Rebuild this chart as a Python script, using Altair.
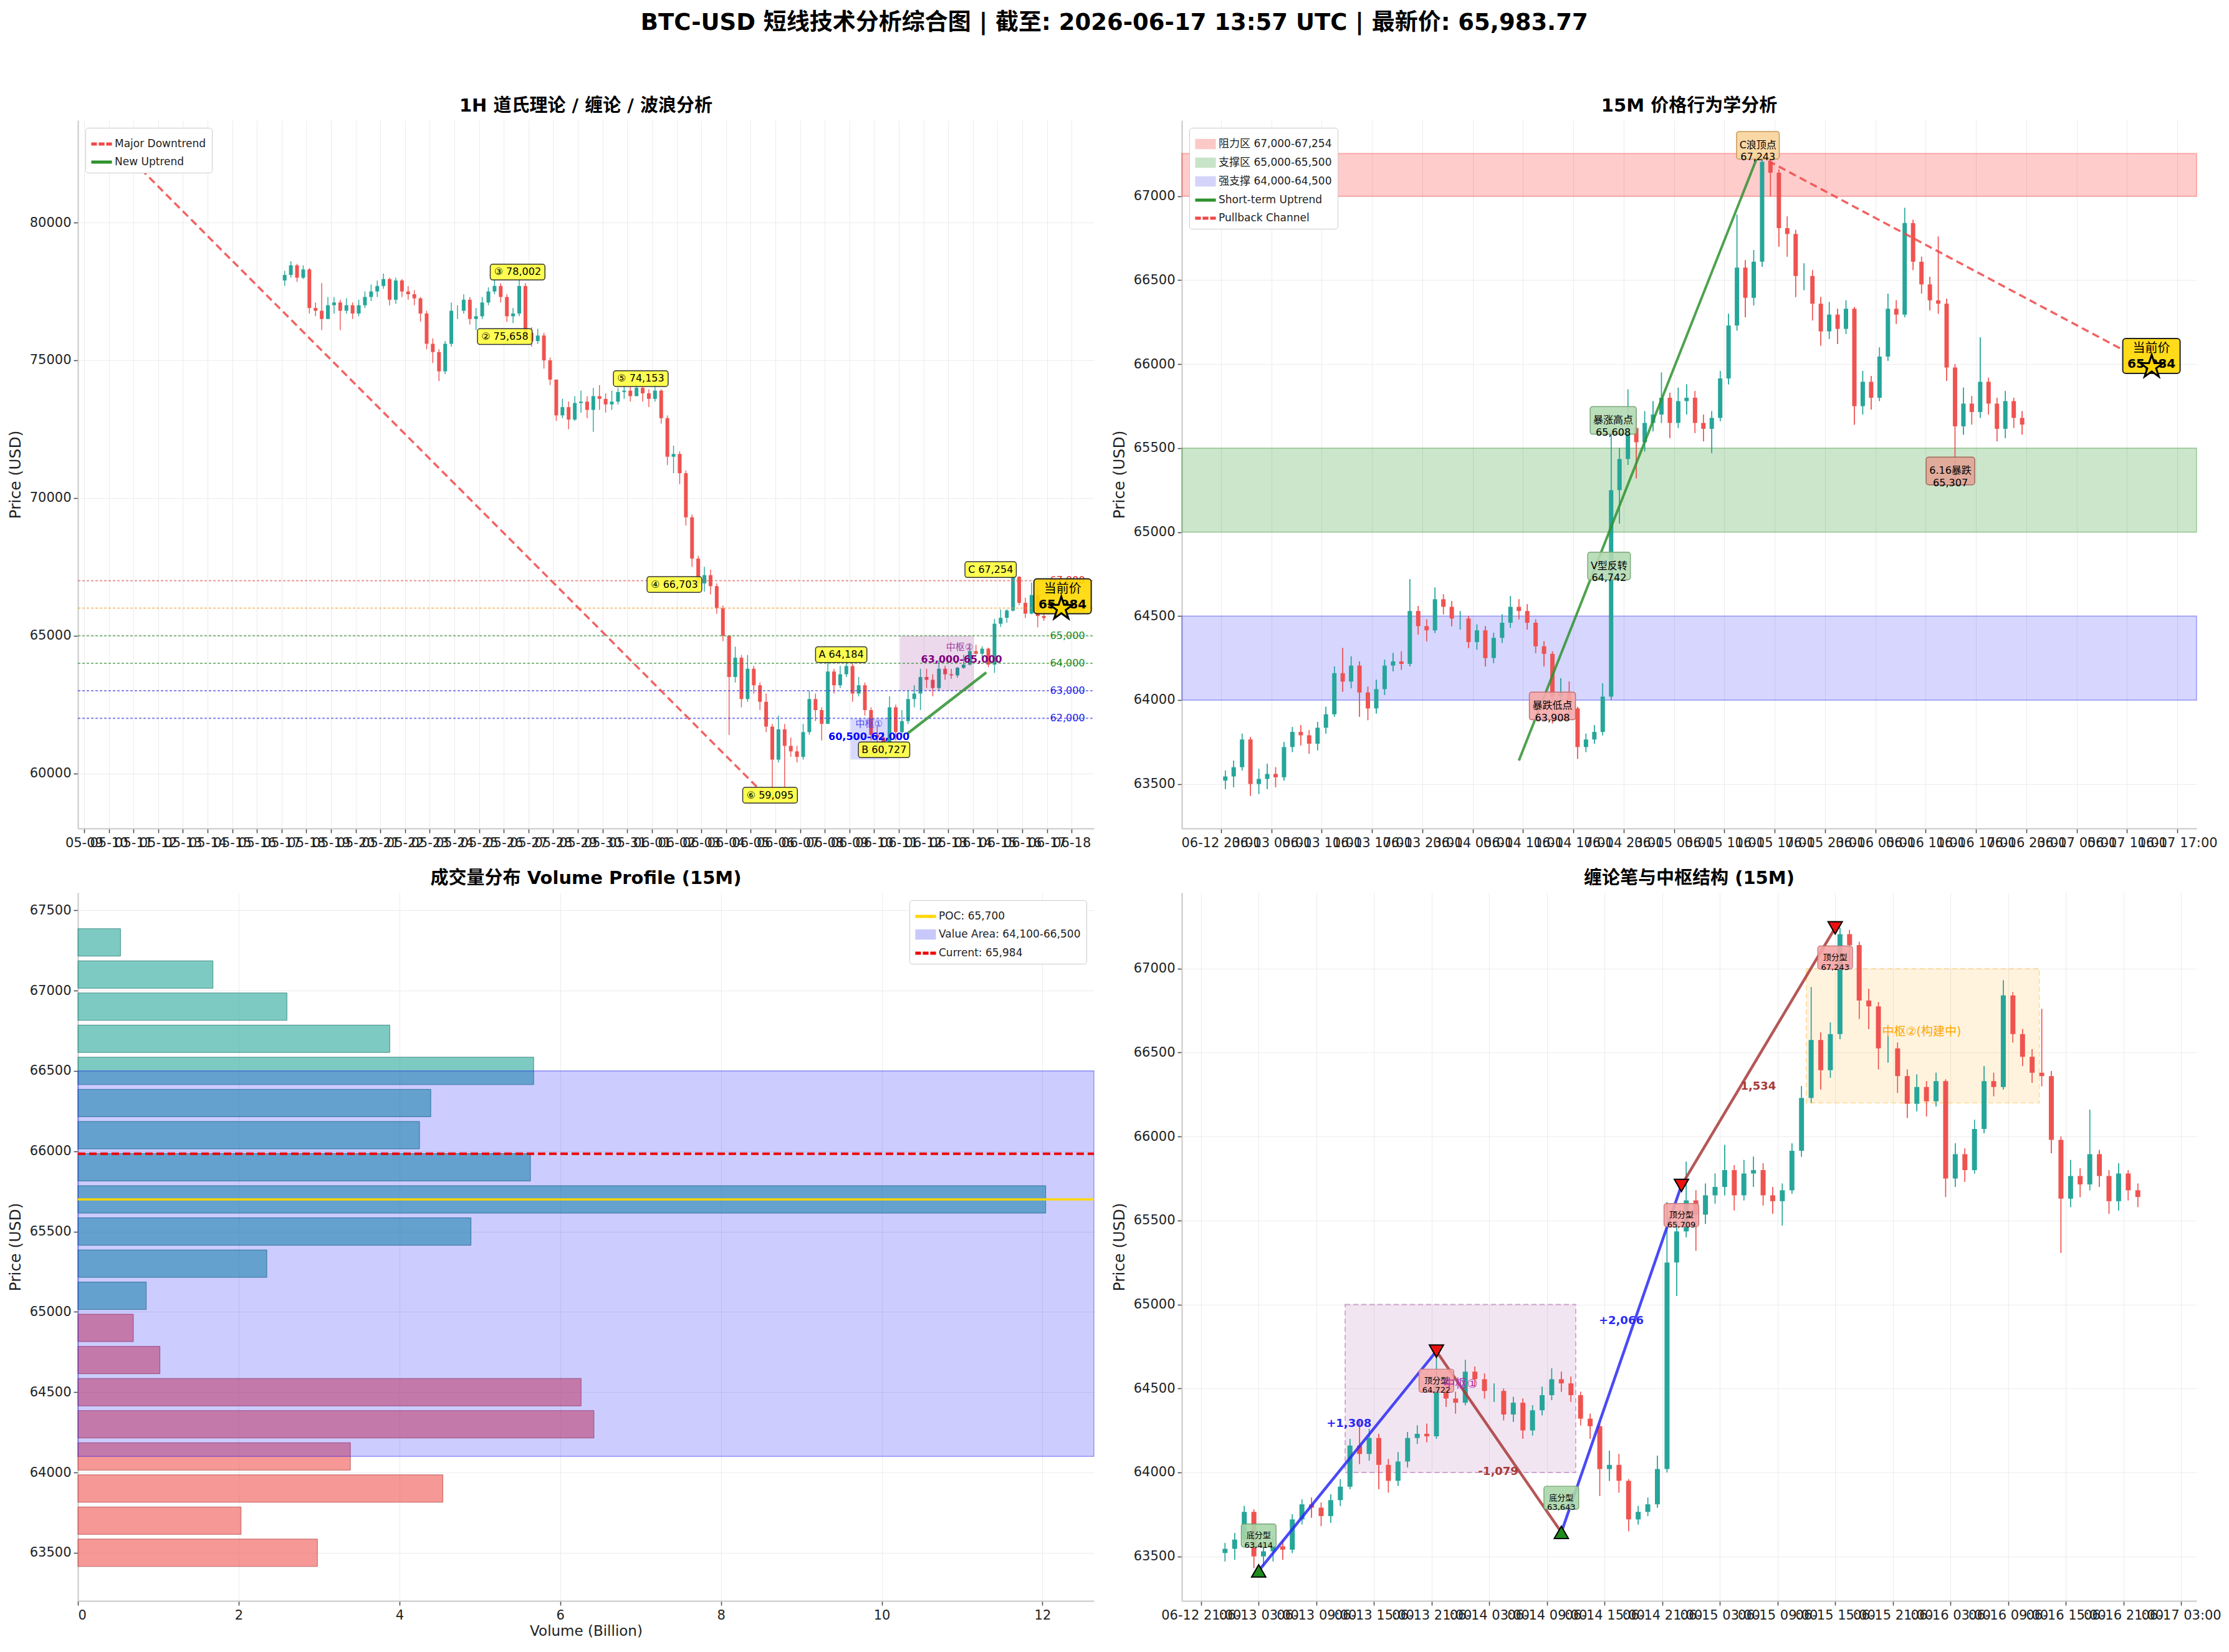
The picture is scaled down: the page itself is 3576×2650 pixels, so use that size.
import altair as alt
import pandas as pd

FONT = "DejaVu Sans, Noto Sans CJK SC, sans-serif"
UP, DN = "#26a69a", "#ef5350"
WL, WR, H = 1630, 1628, 1136

# ======================= DATA =======================
# 1H panel, drawn as 6-hour candles from 2026-05-17 00:00
h1_open0 = 77900
h1_close = [78100, 78450, 78000, 78300, 76900, 76800, 76500, 77000,
            77100, 76800, 77000, 76700, 77000, 77300, 77500, 77700,
            77950, 77200, 77900, 77500, 77400, 77250, 76700, 75600,
            75300, 74600, 75600, 76800, 76800, 77200, 76500, 76600,
            77100, 77500, 77700, 77300, 76600, 76700, 77700, 76000,
            75700, 75900, 75000, 74300, 73000, 73300, 72850, 73450,
            73500, 73200, 73700, 73600, 73400, 73500, 73850, 73900,
            73700, 74000, 73800, 73600, 73900, 72900, 71500, 71600,
            70900, 69300, 67800, 66900, 67200, 66800, 66000, 65000,
            63500, 64200, 62700, 63800, 63200, 62600, 61700, 60500,
            61600, 61000, 60800, 60600, 61500, 62700, 62300, 61800,
            63700, 63200, 63600, 63900, 62900, 63200, 62300, 61400,
            61300, 61100, 62400, 61500, 61900, 62700, 62900, 63500,
            63400, 63100, 63800, 63600, 63560, 63835, 63950, 64440,
            64345, 64530, 63950, 65435, 65650, 65915, 67140, 66195,
            65800, 66475, 65715, 65640]
h1_high = [78250, 78600, 78500, 78450, 78350, 77100, 77800, 77300,
           77300, 77200, 77250, 77100, 77200, 77500, 77750, 77900,
           78150, 78000, 78000, 77950, 77700, 77550, 77300, 76800,
           75800, 75400, 75700, 77100, 77000, 77400, 77300, 76900,
           77300, 77650, 77950, 77800, 77400, 76900, 78002, 77800,
           76200, 76150, 76000, 75100, 74300, 73600, 73500, 73700,
           73900, 73700, 74000, 74100, 73800, 73900, 74000, 74100,
           74050, 74153, 74100, 73950, 74150, 73950, 73000, 71900,
           71700, 71000, 69400, 67900, 67500, 67400, 66900, 66100,
           65000, 64600, 64300, 64300, 63900, 63300, 62900, 61800,
           62100, 61800, 61300, 61000, 61800, 63000, 62900, 62400,
           64100, 63800, 63900, 64184, 64000, 63500, 63300, 62400,
           61700, 61500, 62800, 62500, 62300, 63000, 63200, 63800,
           63800, 63600, 64100, 63900, 63800, 63870, 64310, 64720,
           64670, 64620, 64570, 65610, 65950, 65960, 67254, 67160,
           66380, 66930, 66760, 66160]
h1_low = [77700, 78000, 77850, 77950, 76700, 76600, 76100, 76500,
          76700, 76100, 76700, 76500, 76600, 76900, 77150, 77300,
          77600, 77000, 77050, 77300, 77200, 77000, 76400, 75400,
          74900, 74250, 74500, 75500, 76500, 76700, 76300, 76100,
          76500, 77000, 77400, 77100, 76400, 76350, 76600, 75900,
          75500, 75600, 74700, 74100, 72800, 72900, 72500, 72800,
          73100, 72900, 72400, 73200, 73100, 73200, 73400, 73600,
          73500, 73700, 73500, 73300, 73500, 72700, 71200, 70900,
          70500, 69000, 67500, 66703, 66600, 66500, 65800, 64800,
          61400, 63300, 62400, 62600, 62900, 62300, 61500, 59095,
          60400, 59500, 60600, 60400, 60500, 61400, 61900, 61200,
          61800, 62900, 63100, 63500, 62600, 62800, 62100, 61200,
          60900, 60727, 61000, 61200, 61400, 61800, 62400, 62300,
          63100, 62800, 63000, 63400, 63430, 63480, 63800, 63920,
          64310, 64200, 63860, 63650, 65320, 65470, 65880, 66110,
          65640, 65780, 65307, 65540]

# 15M panels, drawn as hourly candles from 2026-06-12 23:30
m15_open0 = 63520
m15_close = [63545, 63600, 63765, 63500, 63530, 63560, 63540, 63720, 63810, 63790, 63740, 63835,
             63915, 64160, 64110, 64205, 64045, 63950, 64065, 64205, 64230, 64215, 64530, 64440,
             64415, 64600, 64555, 64485, 64485, 64345, 64415, 64250, 64370, 64460, 64555, 64530,
             64460, 64320, 64275, 64020, 64045, 63950, 63720, 63765, 63810, 64020, 65250, 65435,
             65620, 65535, 65650, 65700, 65800, 65650, 65780, 65800, 65650, 65615, 65680, 65915,
             66230, 66575, 66395, 66610, 67205, 67140, 66810, 66775, 66525, 66525, 66360, 66195,
             66295, 66210, 66330, 65750, 65895, 65800, 66045, 66330, 66295, 66840, 66610, 66475,
             66380, 66360, 65980, 65630, 65765, 65715, 65895, 65765, 65615, 65780, 65680, 65640]
m15_high = [63580, 63640, 63800, 63780, 63590, 63620, 63600, 63750, 63840, 63850, 63820, 63870,
            63960, 64200, 64310, 64260, 64230, 64080, 64120, 64240, 64280, 64290, 64720, 64560,
            64480, 64670, 64630, 64590, 64530, 64500, 64450, 64440, 64400, 64510, 64620, 64600,
            64570, 64480, 64350, 64290, 64130, 64110, 63960, 63800, 63850, 64100, 65610, 65500,
            65850, 65680, 65720, 65780, 65950, 65830, 65860, 65880, 65840, 65700, 65720, 65960,
            66300, 66890, 66620, 66680, 67243, 67230, 67160, 66880, 66800, 66600, 66560, 66400,
            66370, 66330, 66380, 66340, 65960, 65930, 66100, 66420, 66380, 66930, 66860, 66640,
            66520, 66760, 66390, 66000, 65860, 65810, 66160, 65920, 65800, 65840, 65800, 65720]
m15_low = [63470, 63480, 63580, 63430, 63440, 63470, 63480, 63520, 63690, 63730, 63680, 63700,
           63800, 63900, 64050, 64070, 63900, 63880, 63920, 64030, 64170, 64180, 64200, 64390,
           64350, 64400, 64510, 64440, 64420, 64310, 64300, 64200, 64220, 64340, 64430, 64480,
           64420, 64280, 64200, 63860, 63950, 63880, 63650, 63690, 63740, 63790, 64000, 65050,
           65400, 65320, 65480, 65600, 65650, 65560, 65620, 65700, 65590, 65540, 65470, 65660,
           65880, 66200, 66280, 66350, 66580, 67000, 66700, 66640, 66400, 66440, 66260, 66110,
           66150, 66120, 66180, 65640, 65700, 65730, 65780, 66020, 66240, 66280, 66560, 66420,
           66320, 66300, 65900, 65307, 65580, 65640, 65680, 65700, 65540, 65560, 65620, 65580]

# volume profile (15M)
vp_price = [63500, 63700, 63900, 64100, 64300, 64500, 64700, 64900, 65100, 65300,
            65500, 65700, 65900, 66100, 66300, 66500, 66700, 66900, 67100, 67300]
vp_volume = [2.98, 2.03, 4.54, 3.39, 6.42, 6.26, 1.02, 0.69, 0.85, 2.35,
             4.89, 12.04, 5.63, 4.25, 4.39, 5.67, 3.88, 2.60, 1.68, 0.53]
poc_price, va_low, va_high, current_price = 65700, 64100, 66500, 65984

# key levels (1H)
lvl_price = [67000, 66000, 65000, 64000, 63000, 62000]
lvl_line_col = ["#e05050", "#f0a030", "#2e8b2e", "#2e8b2e", "#3030e0", "#3030e0"]
lvl_text_col = ["#e02020", "#ff9900", "#228b22", "#228b22", "#2020ee", "#2020ee"]

# wave labels (1H): text, time, price of label
wave_txt = ["③ 78,002", "② 75,658", "⑤ 74,153", "④ 66,703", "⑥ 59,095", "A 64,184", "B 60,727", "C 67,254"]
wave_t = ["2026-05-26 13:25", "2026-05-26 01:00", "2026-05-31 13:10", "2026-06-01 21:50",
          "2026-06-05 18:50", "2026-06-08 16:00", "2026-06-10 09:40", "2026-06-14 17:15"]
wave_p = [78204, 75862, 74337, 66861, 59208, 64315, 60858, 67401]

# trend lines
down_t, down_p = ["2026-05-10 15:00", "2026-06-05 17:00"], [82550, 59100]
up1_t, up1_p = ["2026-06-11 08:00", "2026-06-14 13:00"], [61434, 63663]
up2_t, up2_p = ["2026-06-14 10:30", "2026-06-15 15:00"], [63640, 67243]
pb_t, pb_p = ["2026-06-15 15:00", "2026-06-17 10:20"], [67243, 66090]
now_t = "2026-06-17 13:57"

# price-action labels (15M)
pa_txt = ["C浪顶点\n67,243", "暴涨高点\n65,608", "V型反转\n64,742", "暴跌低点\n63,908", "6.16暴跌\n65,307"]
pa_t = ["2026-06-15 15:00", "2026-06-14 21:45", "2026-06-14 21:15", "2026-06-14 14:30", "2026-06-16 13:57"]
pa_p = [67303, 65665, 64798, 63965, 65364]
pa_fill = ["#f8d49c", "#b3d9b3", "#b3d9b3", "#f5a8a8", "#e2a496"]
pa_edge = ["#c89a5a", "#7aa87a", "#7aa87a", "#c07070", "#a06858"]

# Chan fractals / strokes (15M)
fx_t = ["2026-06-13 03:00", "2026-06-13 21:30", "2026-06-14 10:30", "2026-06-14 23:00", "2026-06-15 15:00"]
fx_p = [63414, 64722, 63643, 65709, 67243]
fx_kind = ["bottom", "top", "bottom", "top", "top"]
fx_label_p = [63624, 64546, 63849, 65532, 67066]
bi_col = ["#2a2af5", "#a83a3a", "#2a2af5", "#a83a3a"]
bi_txt = ["+1,308", "-1,079", "+2,066", "1,534"]
bi_txt_t = ["2026-06-13 12:24", "2026-06-14 03:56", "2026-06-14 16:44", "2026-06-15 07:00"]
bi_txt_p = [64291, 64005, 64901, 66299]


# ======================= HELPERS =======================
def T(s):
    ts = pd.Timestamp(s)
    return alt.DateTime(year=ts.year, month=ts.month, date=ts.day, hours=ts.hour, minutes=ts.minute)


def iso(ts):
    return pd.Timestamp(ts).strftime("%Y-%m-%dT%H:%M:%S")


def ohlc_frame(start, step_h, shift_h, open0, close, high, low):
    t0 = pd.Timestamp(start)
    opens = [open0] + list(close[:-1])
    return pd.DataFrame({
        "t": [iso(t0 + pd.Timedelta(hours=step_h * i + shift_h)) for i in range(len(close))],
        "o": opens, "c": close, "h": high, "l": low})


def tw(s, fs, bold=False):
    w = 0.0
    for ch in s:
        o = ord(ch)
        if o > 0x2400:
            w += 1.0
        elif ch in ",. :":
            w += 0.33
        elif ch in "()":
            w += 0.4
        elif ch.isdigit():
            w += 0.70 if bold else 0.64
        else:
            w += 0.74 if bold else 0.66
    return w * fs


def X(field, scale):
    return alt.X(field, scale=scale)


def Y(field, scale):
    return alt.Y(field, scale=scale)


AXIS_STYLE = dict(domainColor="#c8c8c8", domainWidth=2, tickColor="#444444", tickWidth=1.5, tickSize=7,
                  gridColor="#e4e4e4", gridWidth=1, gridOpacity=0.7, labelColor="#222222",
                  titleColor="#222222", labelFont=FONT, titleFont=FONT, labelFontSize=21, grid=True)


def x_time_axis(values, fmt):
    return alt.Axis(values=values, format=fmt, labelOverlap=False, labelFlush=False, title=None,
                    labelPadding=5, **AXIS_STYLE)


def y_price_axis(values):
    return alt.Axis(values=values, format="d", title="Price (USD)",
                    titleFontSize=25, titleFontWeight="normal", titlePadding=10, labelPadding=4,
                    **AXIS_STYLE)


def candle_layers(df, xs, ys, xaxis, yaxis, body_w):
    cond = alt.condition("datum.c >= datum.o", alt.value(UP), alt.value(DN))
    wick = alt.Chart(df).mark_rule(strokeWidth=1.4).encode(
        x=alt.X("t:T", scale=xs, axis=xaxis),
        y=alt.Y("l:Q", scale=ys, axis=yaxis), y2="h:Q", color=cond)
    body = alt.Chart(df).mark_rule(strokeWidth=body_w).encode(
        x=X("t:T", xs), y=Y("o:Q", ys), y2="c:Q", color=cond)
    return [wick, body]


def box(xv, yv, text, xs, ys, xtype, fs, fill, stroke, fop=0.85, bold=False,
        color="black", lh=1.2, pad_w=10, pad_h=6, sw=1.5):
    lines = text.split("\n")
    w = max(tw(l, fs, bold) for l in lines) + pad_w
    h = len(lines) * fs * lh + pad_h
    d = pd.DataFrame({"x": [xv], "y": [yv], "txt": [text]})
    enc = dict(x=X(f"x:{xtype}", xs), y=Y("y:Q", ys))
    r = alt.Chart(d).mark_rect(xOffset=-w / 2, x2Offset=w / 2, yOffset=-h / 2, y2Offset=h / 2,
                               fill=fill, fillOpacity=fop, stroke=stroke, strokeWidth=sw,
                               cornerRadius=4).encode(x2="x", y2="y", **enc)
    t = alt.Chart(d).mark_text(fontSize=fs, font=FONT, fontWeight="bold" if bold else "normal",
                               color=color, align="center", baseline="middle", lineBreak="\n",
                               lineHeight=fs * lh).encode(text="txt:N", **enc)
    return [r, t]


PATCH = "M-1,-0.5H1V0.5H-1Z"
LINE = "M-1,-0.15H1V0.15H-1Z"
DASH = "M-1,-0.15H-0.45V0.15H-1Z M-0.28,-0.15H0.28V0.15H-0.28Z M0.45,-0.15H1V0.15H0.45Z"


def legend_layer(field, labels, colors, shapes, xv, xtype, xs, ys, orient):
    d = pd.DataFrame({field: labels, "x": [xv] * len(labels), "y": [-1.0e6] * len(labels)})
    leg = alt.Legend(title=None, orient=orient, offset=12, labelFontSize=17, labelFont=FONT,
                     symbolSize=1100, symbolStrokeWidth=0, fillColor="white", strokeColor="#cccccc",
                     padding=9, cornerRadius=4, rowPadding=4, labelColor="#222222", symbolOpacity=1,
                     labelLimit=600)
    return alt.Chart(d).mark_point(filled=True, clip=True, opacity=1, size=10).encode(
        x=X(f"x:{xtype}", xs), y=Y("y:Q", ys),
        color=alt.Color(f"{field}:N", scale=alt.Scale(domain=labels, range=colors), legend=leg),
        shape=alt.Shape(f"{field}:N", scale=alt.Scale(domain=labels, range=shapes), legend=leg))


def ptitle(text):
    return alt.TitleParams(text=text, fontSize=29, font=FONT, fontWeight="bold", anchor="middle",
                           offset=8, color="black")


STAR = ("M0,-1L0.2245,-0.309L0.9511,-0.309L0.3633,0.118L0.5878,0.809L0,0.382L-0.5878,0.809"
        "L-0.3633,0.118L-0.9511,-0.309L-0.2245,-0.309Z")


def star(tv, pv, xs, ys):
    d = pd.DataFrame({"t": [iso(tv)], "p": [pv]})
    return alt.Chart(d).mark_point(shape=STAR, size=1500, filled=True, fill="#ffd700",
                                   stroke="black", strokeWidth=3, opacity=1).encode(
        x=X("t:T", xs), y=Y("p:Q", ys))


def now_box(tv, pc, xs, ys):
    d = pd.DataFrame({"t": [iso(tv)], "p": [pc]})
    enc = dict(x=X("t:T", xs), y=Y("p:Q", ys))
    w, h = 92, 56
    r = alt.Chart(d).mark_rect(xOffset=-w / 2, x2Offset=w / 2, yOffset=-h / 2, y2Offset=h / 2,
                               fill="#ffd700", fillOpacity=0.9, stroke="#222222", strokeWidth=2,
                               cornerRadius=5).encode(x2="t", y2="p", **enc)
    t1 = alt.Chart(d).mark_text(text="当前价", fontSize=20, font=FONT, dy=-12, color="black").encode(**enc)
    t2 = alt.Chart(d).mark_text(text="65,984", fontSize=20, font=FONT, fontWeight="bold", dy=13,
                                color="black").encode(**enc)
    return [r, t1, t2]


def line(ts, ps, xs, ys, color, width, dash=None, opacity=0.85):
    d = pd.DataFrame({"t": [iso(t) for t in ts], "p": ps})
    kw = dict(color=color, strokeWidth=width, strokeOpacity=opacity, clip=True)
    if dash:
        kw["strokeDash"] = dash
    return alt.Chart(d).mark_line(**kw).encode(x=X("t:T", xs), y=Y("p:Q", ys))


# ======================= PANEL 1: 1H =======================
xs_tl = alt.Scale(domain=[T("2026-05-08 18:00"), T("2026-06-18 21:40")])
ys_tl = alt.Scale(domain=[58000, 83715], zero=False, nice=False)
tl_ticks = [T(d) for d in pd.date_range("2026-05-09", "2026-06-18", freq="D")]
df_1h = ohlc_frame("2026-05-17 00:00", 6, 3, h1_open0, h1_close, h1_high, h1_low)

tl_layers = candle_layers(df_1h, xs_tl, ys_tl, x_time_axis(tl_ticks, "%m-%d"),
                          y_price_axis([60000, 65000, 70000, 75000, 80000]), 6)

zones_tl = pd.DataFrame({"t1": [iso("2026-06-09 01:00"), iso("2026-06-11 01:00")],
                         "t2": [iso("2026-06-10 14:00"), iso("2026-06-14 01:00")],
                         "p1": [60500, 63000], "p2": [62000, 65000],
                         "col": ["#0000ff", "#800080"]})
for i in range(2):
    tl_layers.append(alt.Chart(zones_tl.iloc[[i]]).mark_rect(fill=zones_tl.col[i], fillOpacity=0.15).encode(
        x=X("t1:T", xs_tl), x2="t2:T", y=Y("p1:Q", ys_tl), y2="p2:Q"))

lv = pd.DataFrame({"p": lvl_price, "lc": lvl_line_col, "tc": lvl_text_col,
                   "txt": [f"{v:,}" for v in lvl_price], "t": iso("2026-06-17 03:00")})
tl_layers.append(alt.Chart(lv).mark_rule(strokeDash=[4, 3], strokeWidth=2, strokeOpacity=0.6).encode(
    y=Y("p:Q", ys_tl), x=alt.value(0), x2=alt.value(WL), stroke=alt.Stroke("lc:N", scale=None)))
tl_layers.append(line(down_t, down_p, xs_tl, ys_tl, "#f04848", 3.5, [12, 7]))
tl_layers.append(line(up1_t, up1_p, xs_tl, ys_tl, "#2f922f", 4.5))

ztxt = pd.DataFrame({"t": [iso("2026-06-09 19:00"), iso("2026-06-09 19:00"),
                           iso("2026-06-13 11:00"), iso("2026-06-13 13:00")],
                     "p": [61795, 61328, 64596, 64126],
                     "txt": ["中枢①", "60,500-62,000", "中枢②", "63,000-65,000"],
                     "col": ["#4a4af0", "#0000ff", "#a040a0", "#800080"],
                     "w": ["normal", "bold", "normal", "bold"]})
for i in range(len(ztxt)):
    tl_layers.append(alt.Chart(ztxt.iloc[[i]]).mark_text(
        fontSize=16 if ztxt.w[i] == "bold" else 15, font=FONT, fontWeight=ztxt.w[i],
        fill=ztxt.col[i]).encode(x=X("t:T", xs_tl), y=Y("p:Q", ys_tl), text="txt:N"))

for i in range(len(lv)):
    tl_layers.append(alt.Chart(lv.iloc[[i]]).mark_text(
        fontSize=16, font=FONT, align="left", baseline="middle", fill=lv.tc[i]).encode(
        x=X("t:T", xs_tl), y=Y("p:Q", ys_tl), text="txt:N"))

for txt, t, p in zip(wave_txt, wave_t, wave_p):
    tl_layers += box(iso(t), p, txt, xs_tl, ys_tl, "T", 16, "#ffff33", "#333333", fop=0.85)
tl_layers += now_box("2026-06-17 15:10", 66430, xs_tl, ys_tl)
tl_layers.append(star(now_t, current_price, xs_tl, ys_tl))
tl_layers.append(legend_layer("lab_tl", ["Major Downtrend", "New Uptrend"], ["#f04848", "#2f922f"],
                              [DASH, LINE], iso("2026-05-20"), "T", xs_tl, ys_tl, "top-left"))
tl = alt.layer(*tl_layers).properties(width=WL, height=H, title=ptitle("1H 道氏理论 / 缠论 / 波浪分析"))

# ======================= PANEL 2: 15M price action =======================
ys_15 = alt.Scale(domain=[63235, 67452], zero=False, nice=False)
xs_tr = alt.Scale(domain=[T("2026-06-12 18:19"), T("2026-06-17 19:18")])
tr_ticks = [T(t) for t in pd.date_range("2026-06-12 23:00", periods=20, freq="6h")]
df_15 = ohlc_frame("2026-06-12 23:30", 1, 0, m15_open0, m15_close, m15_high, m15_low)

zones_tr = pd.DataFrame({"p1": [67000, 65000, 64000], "p2": [67254, 65500, 64500],
                         "col": ["#ff0000", "#008000", "#0000ff"], "op": [0.2, 0.2, 0.16]})
tr_wick, tr_body = candle_layers(df_15, xs_tr, ys_15, x_time_axis(tr_ticks, "%m-%d %H:%M"),
                                 y_price_axis(list(range(63500, 67001, 500))), 7)
tr_zone_layers = [alt.Chart(zones_tr.iloc[[i]]).mark_rect(
    fill=zones_tr.col[i], fillOpacity=zones_tr.op[i], stroke=zones_tr.col[i], strokeOpacity=0.25,
    strokeWidth=2).encode(y=Y("p1:Q", ys_15), y2="p2:Q", x=alt.value(0), x2=alt.value(WR))
    for i in range(3)]
tr_layers = [tr_wick] + tr_zone_layers + [tr_wick, tr_body]
tr_layers.append(line(up2_t, up2_p, xs_tr, ys_15, "#2f922f", 4))
tr_layers.append(line(pb_t, pb_p, xs_tr, ys_15, "#f04848", 3.5, [12, 7]))
for txt, t, p, f, e in zip(pa_txt, pa_t, pa_p, pa_fill, pa_edge):
    tr_layers += box(iso(t), p, txt, xs_tr, ys_15, "T", 16, f, e, fop=0.9, lh=1.2)
tr_layers += now_box("2026-06-17 13:55", 66049, xs_tr, ys_15)
tr_layers.append(star(now_t, current_price, xs_tr, ys_15))
tr_layers.append(legend_layer(
    "lab_tr", ["阻力区 67,000-67,254", "支撑区 65,000-65,500", "强支撑 64,000-64,500",
               "Short-term Uptrend", "Pullback Channel"],
    ["#fcc8c8", "#c8e4c8", "#d4d4fb", "#2f922f", "#f04848"], [PATCH, PATCH, PATCH, LINE, DASH],
    iso("2026-06-14"), "T", xs_tr, ys_15, "top-left"))
tr = alt.layer(*tr_layers).properties(width=WR, height=H, title=ptitle("15M 价格行为学分析"))

# ======================= PANEL 3: Volume profile =======================
xs_bl = alt.Scale(domain=[0, 12.64], zero=True, nice=False)
ys_bl = alt.Scale(domain=[63220, 67590], zero=False, nice=False)
vp = pd.DataFrame({"price": vp_price, "vol": vp_volume})
bl_layers = [
    alt.Chart(vp).mark_bar(orient="horizontal", size=44, fillOpacity=0.6, strokeWidth=1,
                           strokeOpacity=0.7).encode(
        x=alt.X("vol:Q", scale=xs_bl, axis=alt.Axis(values=[0, 2, 4, 6, 8, 10, 12], format="d",
                                                    title="Volume (Billion)",
                                                    titleFontSize=23, titleFontWeight="normal",
                                                    labelPadding=5, **AXIS_STYLE)),
        y=alt.Y("price:Q", scale=ys_bl, axis=y_price_axis(list(range(63500, 67501, 500)))),
        fill=alt.condition("datum.price >= 65000", alt.value(UP), alt.value(DN)),
        stroke=alt.condition("datum.price >= 65000", alt.value("#1b6f67"), alt.value("#a83a38")))
]
va = pd.DataFrame({"lo": [va_low], "hi": [va_high]})
bl_layers.append(alt.Chart(va).mark_rect(fill="#0000ff", fillOpacity=0.2, stroke="#0000ff",
                                         strokeOpacity=0.35, strokeWidth=1.5).encode(
    y=Y("lo:Q", ys_bl), y2="hi:Q", x=alt.value(0), x2=alt.value(WL)))
bl_layers.append(alt.Chart(pd.DataFrame({"p": [poc_price]})).mark_rule(
    color="#ffd700", strokeWidth=3.5).encode(y=Y("p:Q", ys_bl), x=alt.value(0), x2=alt.value(WL)))
bl_layers.append(alt.Chart(pd.DataFrame({"p": [current_price]})).mark_rule(
    color="#ee0000", strokeWidth=4, strokeDash=[12, 6]).encode(
    y=Y("p:Q", ys_bl), x=alt.value(0), x2=alt.value(WL)))
bl_layers.append(legend_layer("lab_bl", ["POC: 65,700", "Value Area: 64,100-66,500", "Current: 65,984"],
                              ["#ffd700", "#c8c8fa", "#ee0000"], [LINE, PATCH, DASH],
                              5.0, "Q", xs_bl, ys_bl, "top-right"))
bl = alt.layer(*bl_layers).properties(width=WL, height=H, title=ptitle("成交量分布 Volume Profile (15M)"))

# ======================= PANEL 4: Chan strokes =======================
xs_br = alt.Scale(domain=[T("2026-06-12 19:00"), T("2026-06-17 04:37")])
br_ticks = [T(t) for t in pd.date_range("2026-06-12 21:00", periods=18, freq="6h")]
zones_br = pd.DataFrame({"t1": [iso("2026-06-13 12:00"), iso("2026-06-15 12:00")],
                         "t2": [iso("2026-06-14 12:00"), iso("2026-06-16 12:15")],
                         "p1": [64000, 66200], "p2": [65000, 67000]})
br_wick, br_body = candle_layers(df_15, xs_br, ys_15, x_time_axis(br_ticks, "%m-%d %H:%M"),
                                 y_price_axis(list(range(63500, 67001, 500))), 8)
zcols = [("#800080", 0.1), ("#ffa500", 0.13)]
zl = [alt.Chart(zones_br.iloc[[i]]).mark_rect(
    fill=zcols[i][0], fillOpacity=zcols[i][1], stroke=zcols[i][0], strokeOpacity=0.3,
    strokeWidth=2, strokeDash=[8, 5]).encode(
    x=X("t1:T", xs_br), x2="t2:T", y=Y("p1:Q", ys_15), y2="p2:Q") for i in range(2)]
br_layers = [br_wick] + zl + [br_wick, br_body]

segs = pd.DataFrame({"t1": [iso(t) for t in fx_t[:-1]], "t2": [iso(t) for t in fx_t[1:]],
                     "p1": fx_p[:-1], "p2": fx_p[1:], "col": bi_col})
for i in range(len(segs)):
    br_layers.append(alt.Chart(segs.iloc[[i]]).mark_rule(
        strokeWidth=4.5, strokeOpacity=0.85, stroke=segs.col[i]).encode(
        x=X("t1:T", xs_br), x2="t2:T", y=Y("p1:Q", ys_15), y2="p2:Q"))
fx = pd.DataFrame({"t": [iso(t) for t in fx_t], "p": fx_p, "k": fx_kind})
br_layers.append(alt.Chart(fx[fx.k == "bottom"]).mark_point(
    shape="triangle-up", size=520, filled=True, fill="#1e8c1e", stroke="black", strokeWidth=2,
    opacity=1).encode(x=X("t:T", xs_br), y=Y("p:Q", ys_15)))
br_layers.append(alt.Chart(fx[fx.k == "top"]).mark_point(
    shape="triangle-down", size=520, filled=True, fill="#ee1111", stroke="black", strokeWidth=2,
    opacity=1).encode(x=X("t:T", xs_br), y=Y("p:Q", ys_15)))
for t, p, k, lp in zip(fx_t, fx_p, fx_kind, fx_label_p):
    name = "底分型" if k == "bottom" else "顶分型"
    fill, edge = ("#a9d6a9", "#6a9a6a") if k == "bottom" else ("#f4a4a4", "#c07070")
    br_layers += box(iso(t), lp, f"{name}\n{p:,}", xs_br, ys_15, "T", 13, fill, edge, fop=0.9,
                     lh=1.2, pad_w=10, pad_h=6, sw=1.2)
for i in range(len(bi_txt)):
    d = pd.DataFrame({"t": [iso(bi_txt_t[i])], "p": [bi_txt_p[i]], "txt": [bi_txt[i]]})
    br_layers.append(alt.Chart(d).mark_text(fontSize=18, font=FONT, fontWeight="bold",
                                            fill=bi_col[i]).encode(
        x=X("t:T", xs_br), y=Y("p:Q", ys_15), text="txt:N"))
for txt, t, p, c in [("中枢①", "2026-06-14 00:00", 64526, "#b030b0"),
                     ("中枢②(构建中)", "2026-06-16 00:00", 66623, "#ffa500")]:
    d = pd.DataFrame({"t": [iso(t)], "p": [p], "txt": [txt]})
    br_layers.append(alt.Chart(d).mark_text(fontSize=19, font=FONT, fill=c).encode(
        x=X("t:T", xs_br), y=Y("p:Q", ys_15), text="txt:N"))
br = alt.layer(*br_layers).properties(width=WR, height=H, title=ptitle("缠论笔与中枢结构 (15M)"))

# ======================= ASSEMBLY =======================
chart = alt.concat(tl, tr, bl, br, columns=2, spacing={"row": 33, "column": 26}).resolve_scale(
    color="independent", shape="independent").properties(
    title=alt.TitleParams(text="BTC-USD 短线技术分析综合图 | 截至: 2026-06-17 13:57 UTC | 最新价: 65,983.77",
                          fontSize=37, font=FONT, fontWeight="bold", anchor="middle", offset=100,
                          color="black"),
    padding={"left": 12, "top": 18, "right": 10, "bottom": 10},
    background="white",
).configure_view(stroke=None)

chart.save("out.html", embed_options={"renderer": "svg", "actions": False})
